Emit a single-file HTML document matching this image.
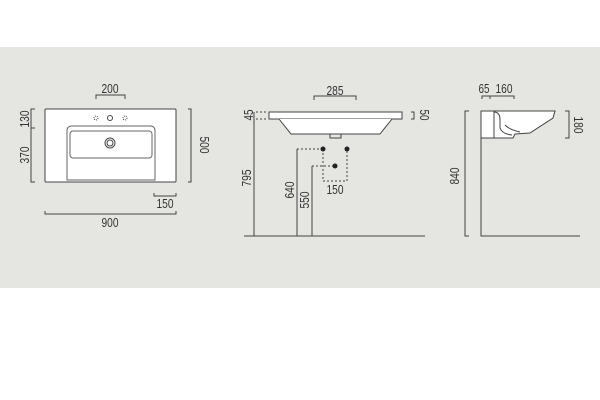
<!DOCTYPE html>
<html><head><meta charset="utf-8"><style>
html,body{margin:0;padding:0;background:#fff;}
svg{display:block;}
text{font-family:"Liberation Sans Narrow","Liberation Sans",sans-serif;font-size:13px;fill:#333;}
</style></head><body>
<svg width="600" height="400" viewBox="0 0 600 400">
<rect x="0" y="47" width="600" height="241" fill="#e5e5e1"/>
<g stroke="#444" stroke-width="1" fill="none">
<rect x="45" y="109" width="131" height="73" fill="#fff" rx="1"/>
<path d="M67,131 Q67,126 72,126 L150,126 Q155,126 155,131 L155,180 L67,180 Z" fill="#fff" stroke="#666"/>
<rect x="70" y="131" width="82" height="27" rx="3" stroke="#666"/>
<circle cx="110" cy="143" r="5"/><circle cx="110" cy="143" r="3"/>
<circle cx="96" cy="118" r="2" stroke-dasharray="1,1"/><circle cx="110" cy="118" r="2.5"/><circle cx="125" cy="118" r="2" stroke-dasharray="1,1"/>
<path d="M96,99 V95 H125 V99"/>
<path d="M35,109 H31 V182 H35 M31,128 H35"/>
<path d="M188,109 H191 V182 H188"/>
<path d="M154,193 V196 H176 V193"/>
<path d="M45,211 V214 H176 V211"/>
<rect x="269" y="112" width="133" height="7" fill="#fff"/>
<path d="M279,119 L291,134 L380,134 L392,119" fill="#fff"/>
<path d="M330,134 V138 H341 V134"/>
<path d="M314,100 V96 H356 V100"/>
<path d="M256,112 H268 M256,119 H268" stroke-dasharray="2,2"/>
<path d="M411,112 H414 V119 H411"/>
<path d="M254,112 V236"/>
<path d="M244,236 H425"/>
<path d="M297,236 V149 M312,236 V166"/>
<path d="M297,149 H323 M312,166 H335 M323,149 V181 H347 V149" stroke-dasharray="2,2"/>
<path d="M482,99 V96 H514 V99 M490,96 V99"/>
<path d="M469,111 H465 V236 H469"/>
<path d="M481,111 V236 H580"/>
<path d="M481,111 H555 L553,118 L530,133 L515,134 L513,138 L481,138 Z" fill="#fff"/>
<path d="M481,111 H494 V138 M494,112 Q500,112 500,120 V128 Q502,134 512,135 M505,125 Q510,130 520,132"/>
<path d="M565,111 H569 V138 H565"/>
</g>
<g fill="#222">
<circle cx="323" cy="149" r="2.5"/><circle cx="347" cy="149" r="2.5"/><circle cx="335" cy="166" r="2.5"/>
</g>
<g text-anchor="middle" lengthAdjust="spacingAndGlyphs">
<text x="110" y="93" textLength="17" lengthAdjust="spacingAndGlyphs">200</text>
<text x="165" y="208" textLength="17" lengthAdjust="spacingAndGlyphs">150</text>
<text x="110" y="227" textLength="17" lengthAdjust="spacingAndGlyphs">900</text>
<text transform="translate(29,119) rotate(-90)" textLength="17" lengthAdjust="spacingAndGlyphs">130</text>
<text transform="translate(29,155) rotate(-90)" textLength="17" lengthAdjust="spacingAndGlyphs">370</text>
<text transform="translate(200,145) rotate(90)" textLength="17" lengthAdjust="spacingAndGlyphs">500</text>
<text x="335" y="95" textLength="17" lengthAdjust="spacingAndGlyphs">285</text>
<text transform="translate(253,115) rotate(-90)" textLength="11" lengthAdjust="spacingAndGlyphs">45</text>
<text transform="translate(420,115) rotate(90)" textLength="11" lengthAdjust="spacingAndGlyphs">50</text>
<text transform="translate(251,178) rotate(-90)" textLength="17" lengthAdjust="spacingAndGlyphs">795</text>
<text transform="translate(294,190) rotate(-90)" textLength="17" lengthAdjust="spacingAndGlyphs">640</text>
<text transform="translate(309,200) rotate(-90)" textLength="17" lengthAdjust="spacingAndGlyphs">550</text>
<text x="335" y="194" textLength="17" lengthAdjust="spacingAndGlyphs">150</text>
<text x="484" y="93" textLength="11" lengthAdjust="spacingAndGlyphs">65</text>
<text x="504" y="93" textLength="17" lengthAdjust="spacingAndGlyphs">160</text>
<text transform="translate(459,176) rotate(-90)" textLength="17" lengthAdjust="spacingAndGlyphs">840</text>
<text transform="translate(574,125) rotate(90)" textLength="17" lengthAdjust="spacingAndGlyphs">180</text>
</g>
</svg>
</body></html>
